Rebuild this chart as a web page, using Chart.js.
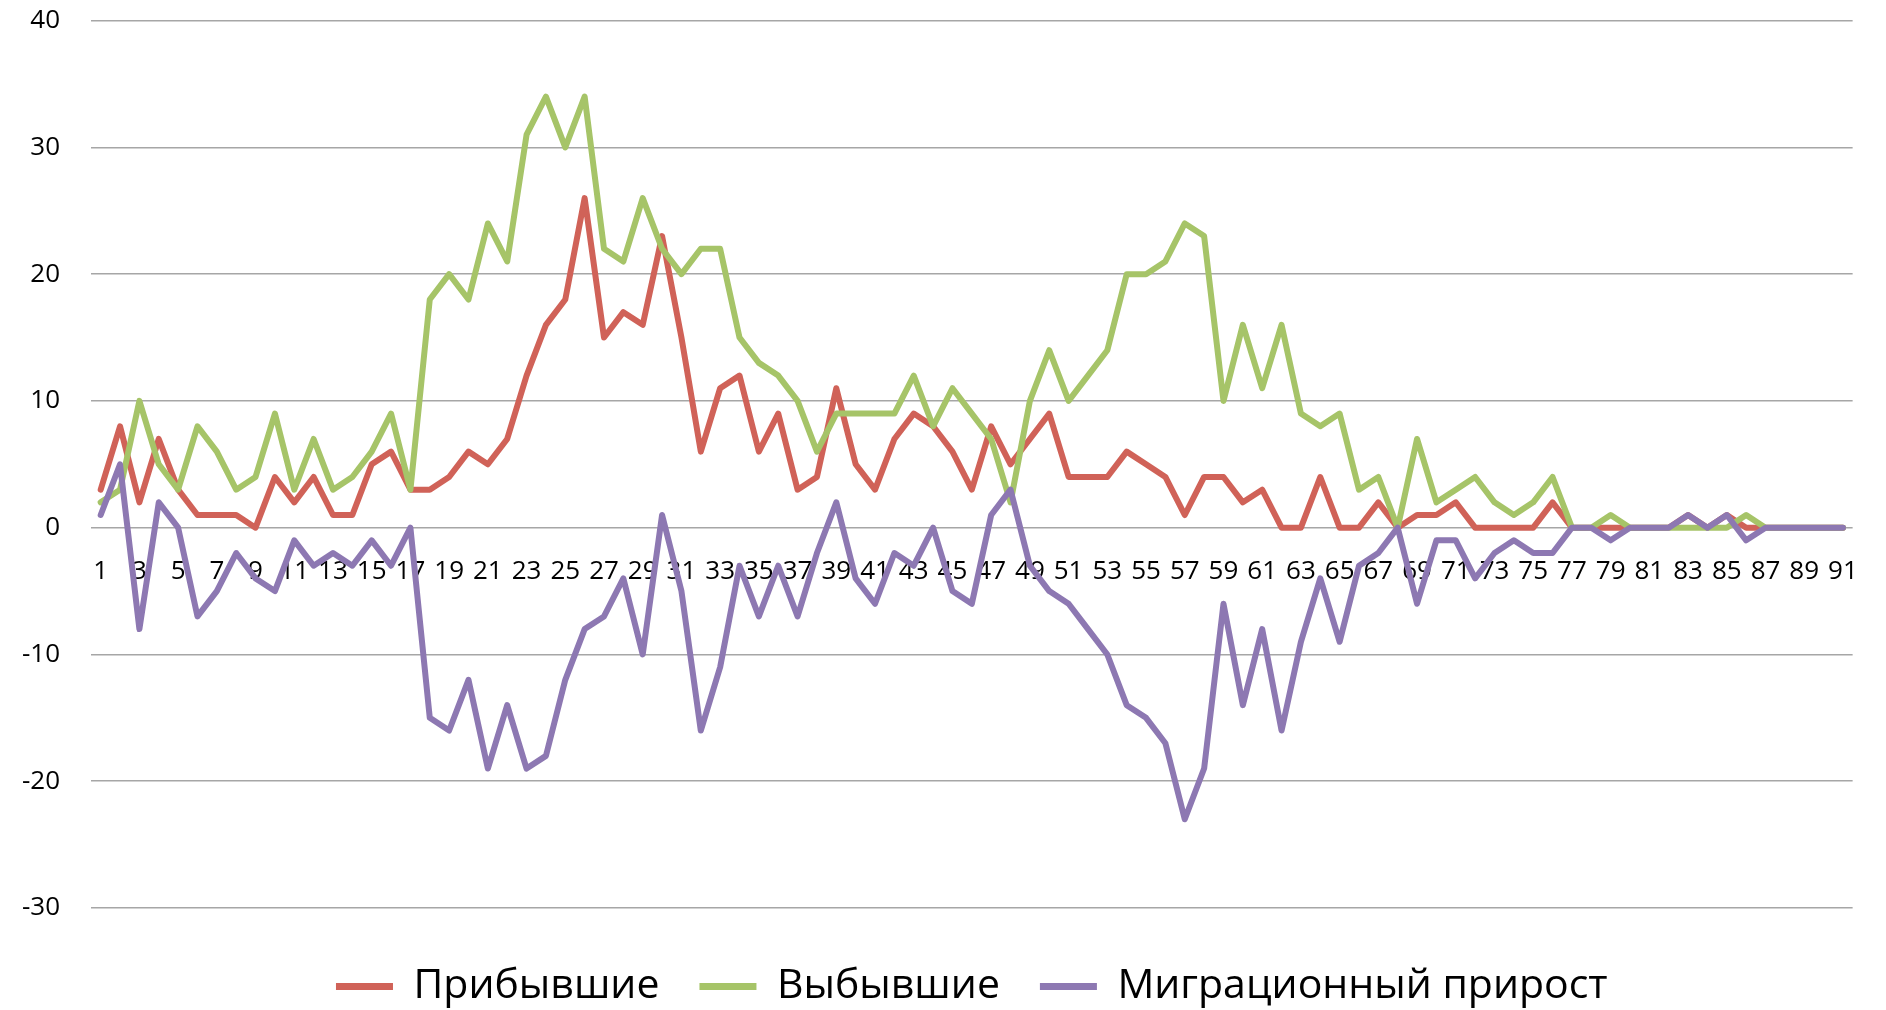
<!DOCTYPE html>
<html>
<head>
<meta charset="utf-8">
<script src="https://cdn.jsdelivr.net/npm/chart.js@4/dist/chart.umd.min.js"></script>
<style>
  html, body { margin: 0; padding: 0; background: #ffffff; overflow: hidden; }
  #wrap { width: 1886px; height: 1043px; margin-top: -26px; }
</style>
</head>
<body>
<div id="wrap"><canvas id="c" width="1886" height="1043"></canvas></div>
<script>
const categories = [
  '1','2','3','4','5','6','7','8','9','10',
  '11','12','13','14','15','16','17','18','19','20',
  '21','22','23','24','25','26','27','28','29','30',
  '31','32','33','34','35','36','37','38','39','40',
  '41','42','43','44','45','46','47','48','49','50',
  '51','52','53','54','55','56','57','58','59','60',
  '61','62','63','64','65','66','67','68','69','70',
  '71','72','73','74','75','76','77','78','79','80',
  '81','82','83','84','85','86','87','88','89','90','91'
];

const arrived = [
  3, 8, 2, 7, 3, 1, 1, 1, 0, 4,
  2, 4, 1, 1, 5, 6, 3, 3, 4, 6,
  5, 7, 12, 16, 18, 26, 15, 17, 16, 23,
  15, 6, 11, 12, 6, 9, 3, 4, 11, 5,
  3, 7, 9, 8, 6, 3, 8, 5, 7, 9,
  4, 4, 4, 6, 5, 4, 1, 4, 4, 2,
  3, 0, 0, 4, 0, 0, 2, 0, 1, 1,
  2, 0, 0, 0, 0, 2, 0, 0, 0, 0,
  0, 0, 1, 0, 1, 0, 0, 0, 0, 0, 0
];

const departed = [
  2, 3, 10, 5, 3, 8, 6, 3, 4, 9,
  3, 7, 3, 4, 6, 9, 3, 18, 20, 18,
  24, 21, 31, 34, 30, 34, 22, 21, 26, 22,
  20, 22, 22, 15, 13, 12, 10, 6, 9, 9,
  9, 9, 12, 8, 11, 9, 7, 2, 10, 14,
  10, 12, 14, 20, 20, 21, 24, 23, 10, 16,
  11, 16, 9, 8, 9, 3, 4, 0, 7, 2,
  3, 4, 2, 1, 2, 4, 0, 0, 1, 0,
  0, 0, 0, 0, 0, 1, 0, 0, 0, 0, 0
];

const netMigration = [
  1, 5, -8, 2, 0, -7, -5, -2, -4, -5,
  -1, -3, -2, -3, -1, -3, 0, -15, -16, -12,
  -19, -14, -19, -18, -12, -8, -7, -4, -10, 1,
  -5, -16, -11, -3, -7, -3, -7, -2, 2, -4,
  -6, -2, -3, 0, -5, -6, 1, 3, -3, -5,
  -6, -8, -10, -14, -15, -17, -23, -19, -6, -14,
  -8, -16, -9, -4, -9, -3, -2, 0, -6, -1,
  -1, -4, -2, -1, -2, -2, 0, 0, -1, 0,
  0, 0, 1, 0, 1, -1, 0, 0, 0, 0, 0
];

const seriesNames = ['Прибывшие', 'Выбывшие', 'Миграционный прирост'];
const seriesColors = ['#D06258', '#A6C468', '#8D78B2'];

const yMin = -30, yMax = 40, yStep = 10;

function lineSet(label, data, color, order) {
  return {
    label: label,
    data: data,
    borderColor: color,
    backgroundColor: color,
    borderWidth: 6,
    pointRadius: 0,
    pointHoverRadius: 0,
    tension: 0,
    borderJoinStyle: 'round',
    borderCapStyle: 'round',
    fill: false,
    order: order
  };
}

new Chart(document.getElementById('c'), {
  type: 'line',
  data: {
    labels: categories,
    datasets: [
      lineSet(seriesNames[0], arrived, seriesColors[0], 3),
      lineSet(seriesNames[1], departed, seriesColors[1], 2),
      lineSet(seriesNames[2], netMigration, seriesColors[2], 1)
    ]
  },
  options: {
    responsive: false,
    animation: false,
    devicePixelRatio: 1,
    layout: { padding: { top: 0, right: 9, left: 0, bottom: 0 } },
    plugins: {
      tooltip: { enabled: false },
      legend: {
        position: 'bottom',
        fullSize: false,
        title: { display: true, text: ' ', font: { size: 10 }, padding: { top: 6, bottom: 0 } },
        labels: {
          font: { family: 'Open Sans', size: 41 },
          color: '#000000',
          boxWidth: 57,
          boxHeight: 7,
          padding: 40,
          sort: (a, b) => a.datasetIndex - b.datasetIndex,
          generateLabels: (chart) => Chart.defaults.plugins.legend.labels.generateLabels(chart)
            .map(l => Object.assign(l, { lineWidth: 0 }))
        }
      }
    },
    scales: {
      x: {
        type: 'category',
        position: { y: 0 },
        offset: true,
        grid: { display: false, drawTicks: false },
        border: { display: false },
        ticks: {
          autoSkip: false,
          maxRotation: 0,
          minRotation: 0,
          padding: 28,
          color: '#000000',
          font: { family: 'Open Sans', size: 26 },
          callback: function (value, index) {
            return index % 2 === 0 ? categories[index] : '';
          }
        }
      },
      y: {
        min: yMin,
        max: yMax,
        grid: { color: '#A6A6A6', lineWidth: 1.5, drawTicks: false },
        border: { display: false },
        ticks: {
          stepSize: yStep,
          padding: 31,
          color: '#000000',
          font: { family: 'Open Sans', size: 26 }
        },
        afterFit: function (scale) { scale.width = 91; }
      }
    }
  }
});
</script>
</body>
</html>
